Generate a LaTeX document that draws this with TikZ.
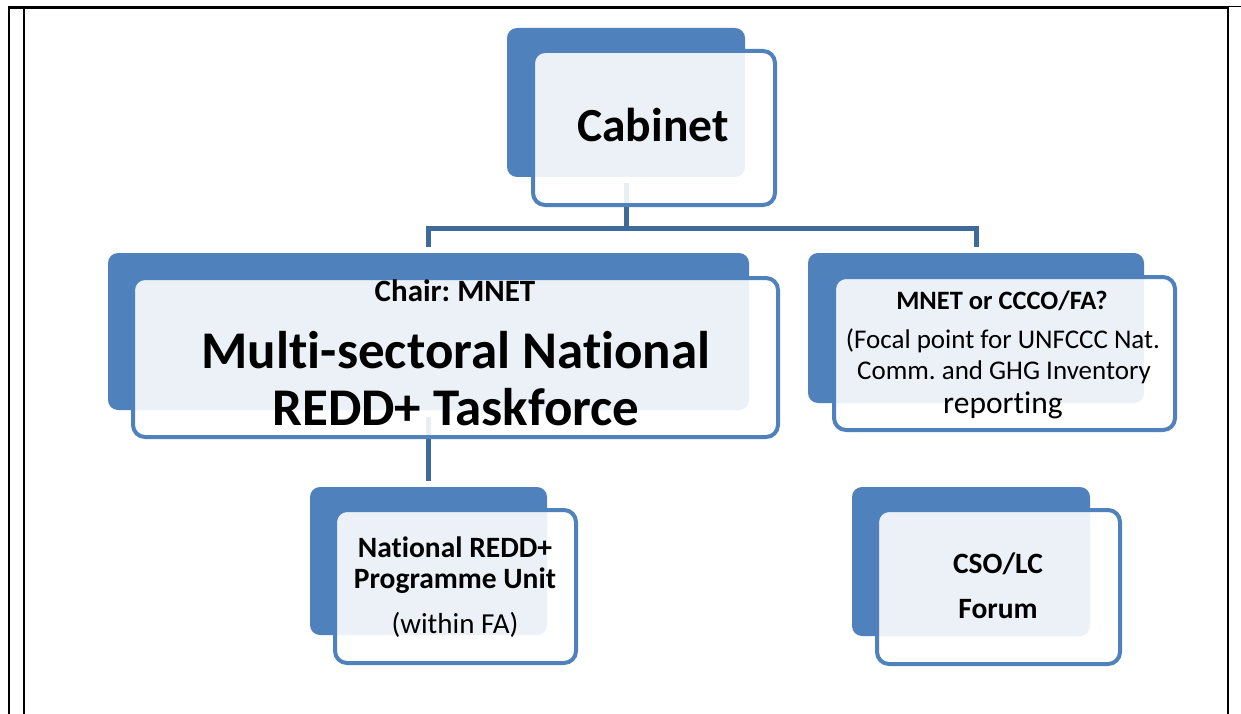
\documentclass[tikz,border=0pt]{standalone}
\usepackage{fontspec}
\setmainfont{Carlito}[Ligatures={NoCommon}]
\usetikzlibrary{fit}
\definecolor{boxblue}{HTML}{4F81BD}
\definecolor{linkblue}{HTML}{3E6A9C}
\pgfdeclarelayer{bg}
\pgfsetlayers{bg,main}
\frenchspacing
\tikzset{
  back/.style={rectangle, rounded corners=10pt, fill=boxblue, inner sep=0pt},
  front/.style={rectangle, rounded corners=12pt, draw=boxblue, line width=4pt,
    fill=white, fill opacity=0.89, inner sep=0pt},
  link/.style={draw=linkblue, line width=5pt},
  lbl/.style={anchor=base, inner sep=0pt, text=black},
}
\newcommand{\fs}[1]{\fontsize{#1}{#1}\selectfont}
\begin{document}
\begin{tikzpicture}[x=1pt,y=-1pt]
  \useasboundingbox (0,0) rectangle (1241,714);
  % page frame
  \draw[line width=3pt] (8,7.5) -- (1227,7.5);
  \draw[line width=1.5pt] (1227,6.5) -- (1241,6.5);
  \draw[line width=2pt] (9,6) -- (9,714);
  \draw[line width=2pt] (24,9) -- (24,714);
  \draw[line width=2pt] (1227.5,6) -- (1227.5,714);

  % boxes: back corner / front corner
  \foreach \n/\ax/\ay/\bx/\by/\cx/\cy/\dx/\dy in {
    cabinet/507/28/745/177/533/51/775/205,
    taskforce/108/253/749/410/133/278/778/437,
    focal/808/253/1144/403/834/277/1175/430,
    unit/310/487/547/635/335/510/576/663,
    forum/852/487/1090/636/877/510/1120/664} {
    \node[back, fit={(\ax,\ay) (\bx,\by)}] (\n-back) {};
    \node[front, fit={(\cx,\cy) (\dx,\dy)}] (\n) {};
  }

  % connectors
  \coordinate (split) at (626,228);
  \begin{pgfonlayer}{bg}
    \draw[link] ([yshift=-6pt]cabinet-back.south) -- (split);
    \draw[link] ([yshift=6pt]taskforce-back.north) |- (split)
      -| ([yshift=6pt]focal-back.north);
    \draw[link] ([yshift=-7pt]taskforce-back.south)
      -- ([yshift=6pt]unit-back.north);
  \end{pgfonlayer}

  % texts
  \node[lbl, font={\fs{47.5}\bfseries}] (cabinet-t) at (653,142) {Cabinet};
  \node[lbl, font={\fs{31}\bfseries}] (chair-t) at (455,301) {Chair: MNET};
  \node[lbl, font={\fs{53}\bfseries}] (task-t1) at (456,368) {Multi-sectoral National};
  \node[lbl, font={\fs{53}\bfseries}] (task-t2) at (456,425) {REDD+ Taskforce};
  \node[lbl, font={\fs{26.5}\bfseries}] (focal-t1) at (1002,309) {MNET or CCCO/FA?};
  \node[lbl, font={\fs{27}}] (focal-t2) at (1003,348) {(Focal point for UNFCCC Nat.};
  \node[lbl, font={\fs{27}}] (focal-t3) at (1004,379) {Comm. and GHG Inventory};
  \node[lbl, font={\fs{31.5}}] (focal-t4) at (1003,413) {reporting};
  \node[lbl, font={\fs{29.5}\bfseries}] (unit-t1) at (455,557) {National REDD+};
  \node[lbl, font={\fs{29.5}\bfseries}] (unit-t2) at (455,588) {Programme Unit};
  \node[lbl, font={\fs{29}}] (unit-t3) at (455,633) {(within FA)};
  \node[lbl, font={\fs{29.5}\bfseries}] (forum-t1) at (998,573) {CSO/LC};
  \node[lbl, font={\fs{29.5}\bfseries}] (forum-t2) at (998,618) {Forum};
\end{tikzpicture}
\end{document}
